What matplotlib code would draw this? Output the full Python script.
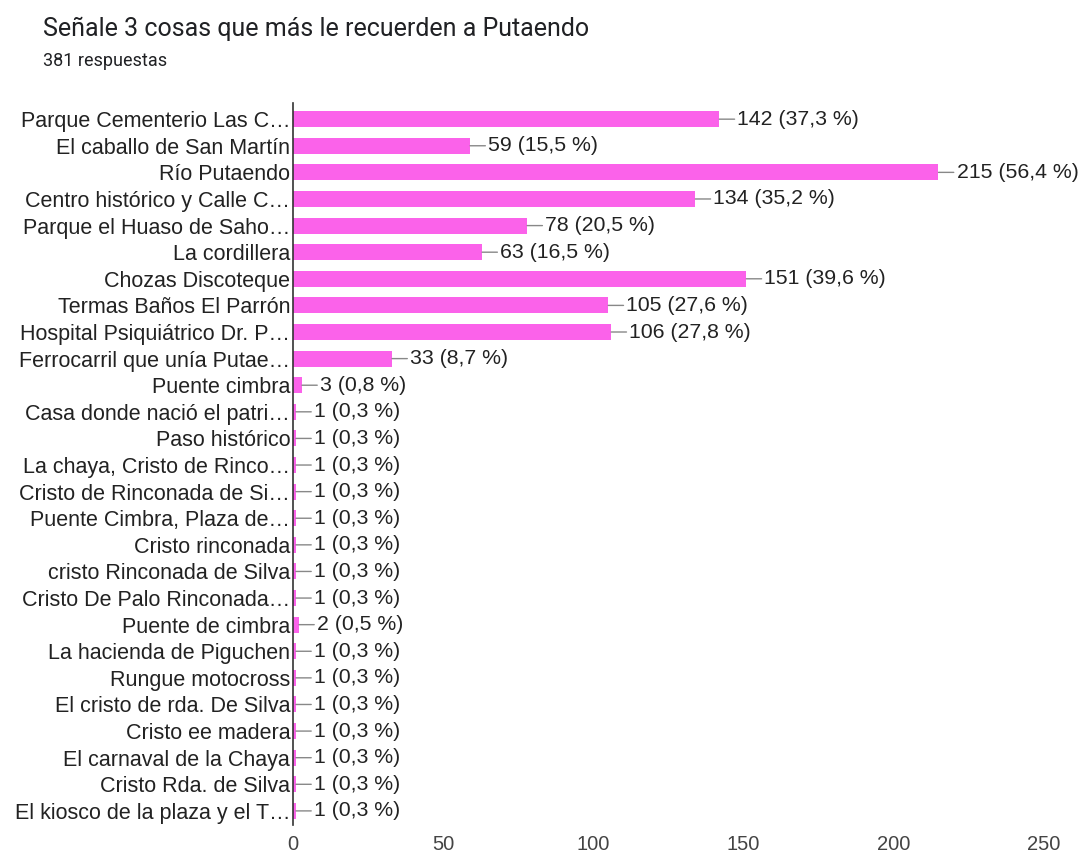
import matplotlib.pyplot as plt

labels = [
    "Parque Cementerio Las C…",
    "El caballo de San Martín",
    "Río Putaendo",
    "Centro histórico y Calle C…",
    "Parque el Huaso de Saho…",
    "La cordillera",
    "Chozas Discoteque",
    "Termas Baños El Parrón",
    "Hospital Psiquiátrico Dr. P…",
    "Ferrocarril que unía Putae…",
    "Puente cimbra",
    "Casa donde nació el patri…",
    "Paso histórico",
    "La chaya, Cristo de Rinco…",
    "Cristo de Rinconada de Si…",
    "Puente Cimbra, Plaza de…",
    "Cristo rinconada",
    "cristo Rinconada de Silva",
    "Cristo De Palo Rinconada…",
    "Puente de cimbra",
    "La hacienda de Piguchen",
    "Rungue motocross",
    "El cristo de rda. De Silva",
    "Cristo ee madera",
    "El carnaval de la Chaya",
    "Cristo Rda. de Silva",
    "El kiosco de la plaza y el T…",
]
counts = [142, 59, 215, 134, 78, 63, 151, 105, 106, 33, 3,
          1, 1, 1, 1, 1, 1, 1, 1, 2, 1, 1, 1, 1, 1, 1, 1]
total = 381
xticks = [0, 50, 100, 150, 200, 250]

bar_color = "#fb62ea"
label_font = ["Liberation Sans", "DejaVu Sans"]

fig = plt.figure(figsize=(10.79, 8.6), dpi=100)
ax = fig.add_axes([0.2715, 0.0407, 0.7235, 0.8393])

y = list(range(len(labels)))
ax.barh(y, counts, height=0.6, color=bar_color)

for i, c in enumerate(counts):
    pct = f"{c / total * 100:.1f}".replace(".", ",")
    ax.annotate(f"{c} ({pct} %)", xy=(c, i), xytext=(13, 0),
                textcoords="offset points", ha="left", va="center",
                fontsize=15.3, family=label_font, color="#222222",
                arrowprops=dict(arrowstyle="-", color="#888888", lw=1,
                                shrinkA=0, shrinkB=0))

ax.set_xlim(0, 260)
ax.set_ylim(len(labels) - 0.47, -0.6)
ax.set_yticks(y)
ax.set_yticklabels(labels, fontsize=15.5, family=label_font, color="#222222")
ax.set_xticks(xticks)
ax.set_xticklabels([str(t) for t in xticks], fontsize=14.5, family=label_font,
                   color="#444444")
ax.tick_params(axis="y", length=0, pad=2)
ax.tick_params(axis="x", length=0, pad=7)

for s in ["top", "right", "bottom"]:
    ax.spines[s].set_visible(False)
ax.spines["left"].set_color("#333333")
ax.spines["left"].set_linewidth(1.2)

fig.text(43 / 1079, 1 - 29 / 860, "Señale 3 cosas que más le recuerden a Putaendo",
         fontsize=18, family=["Roboto", "DejaVu Sans"], color="#202124",
         va="center", ha="left")
fig.text(43 / 1079, 1 - 61 / 860, "381 respuestas",
         fontsize=13, family=["Roboto", "DejaVu Sans"], color="#202124",
         va="center", ha="left")

fig.savefig("out.png", dpi=100)
